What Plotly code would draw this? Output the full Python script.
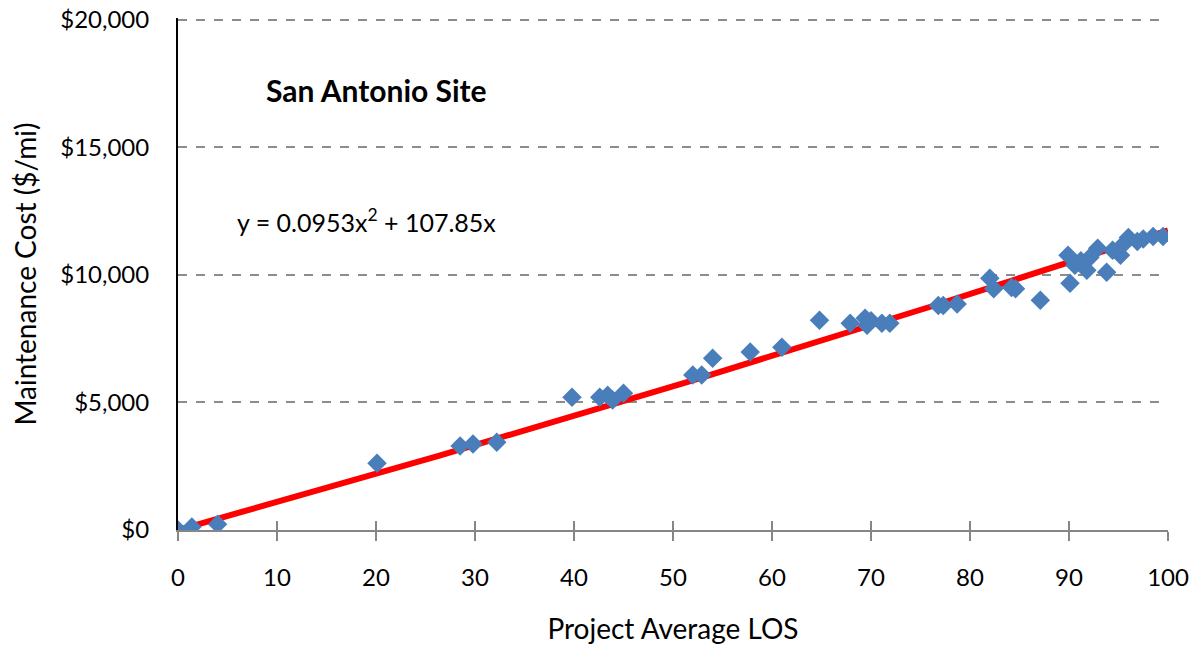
import plotly.graph_objects as go
import numpy as np

# observed data: project average LOS vs maintenance cost ($/mi)
los = [0, 1.4, 4.0, 20.1, 28.5, 29.8, 32.2, 39.8, 42.6, 43.4, 43.9, 45.0,
       52.0, 52.9, 54.0, 57.8, 61.0, 64.8, 67.9, 69.4, 69.6, 70.0, 71.1, 71.9,
       76.8, 77.3, 78.7, 82.0, 82.4, 84.2, 84.6, 87.1, 89.9, 90.1, 90.6, 91.2,
       91.8, 92.1, 92.9, 93.8, 94.4, 95.2, 95.6, 96.0, 96.9, 97.5, 98.5, 99.5]
cost = [0, 120, 230, 2620, 3290, 3370, 3440, 5200, 5200, 5280, 5090, 5360,
        6070, 6070, 6730, 6970, 7160, 8220, 8100, 8300, 8020, 8200, 8100, 8100,
        8800, 8800, 8850, 9860, 9450, 9500, 9450, 9000, 10760, 9670, 10370, 10550,
        10180, 10680, 11040, 10100, 10960, 10760, 11230, 11460, 11300, 11400, 11500, 11500]

# fitted trendline y = 0.0953x^2 + 107.85x
a2, a1 = 0.0953, 107.85
x_fit = np.linspace(0, 100, 201)
y_fit = a2 * x_fit ** 2 + a1 * x_fit

x_ticks = list(range(0, 101, 10))
y_ticks = [0, 5000, 10000, 15000, 20000]
y_ticklabels = ["$0", "$5,000", "$10,000", "$15,000", "$20,000"]

font_family = "Lato, Open Sans, sans-serif"

fig = go.Figure()

fig.add_trace(go.Scatter(x=x_fit, y=y_fit, mode="lines",
                         line=dict(color="#FF0000", width=6), showlegend=False,
                         hoverinfo="skip"))
fig.add_trace(go.Scatter(x=los, y=cost, mode="markers",
                         marker=dict(symbol="diamond", size=15, color="#4A7EBB"),
                         showlegend=False))
# dummy trace on overlaid axis for inside ticks (crossing tick marks)
fig.add_trace(go.Scatter(x=[0], y=[0], xaxis="x2", mode="markers",
                         marker=dict(opacity=0), showlegend=False, hoverinfo="skip"))

fig.update_layout(
    width=1201, height=649,
    margin=dict(l=170, r=41, t=10, b=127),
    plot_bgcolor="white", paper_bgcolor="white",
    font=dict(family=font_family, size=24, color="black"),
    xaxis=dict(range=[0, 100], tickvals=x_ticks, showgrid=False, zeroline=False,
               showline=True, linecolor="#868686", linewidth=2,
               ticks="outside", ticklen=9, tickwidth=2, tickcolor="#868686",
               ticklabelstandoff=16, automargin=False,
               title=dict(text="Project Average LOS", standoff=30,
                          font=dict(size=28))),
    xaxis2=dict(range=[0, 100], overlaying="x", tickvals=x_ticks, showticklabels=False,
                showgrid=False, zeroline=False, ticks="inside", ticklen=9,
                tickwidth=2, tickcolor="#868686", side="bottom", automargin=False),
    # range topped up a little so the $20,000 gridline is still drawn
    yaxis=dict(range=[0, 20060], tickvals=y_ticks, ticktext=y_ticklabels,
               showgrid=True, gridcolor="#8C8C8C", griddash="dash", gridwidth=1.5,
               zeroline=False, showline=True, linecolor="black", linewidth=2,
               ticks="", ticklabelstandoff=22, automargin=False,
               ticklabeloverflow="allow",
               title=dict(text="Maintenance Cost ($/mi)", standoff=21,
                          font=dict(size=28))),
    annotations=[
        dict(text="<b>San Antonio Site</b>", x=0.201, y=0.859, xref="paper", yref="paper",
             showarrow=False, font=dict(size=30), xanchor="center", yanchor="middle"),
        dict(text="y = 0.0953x<sup>2</sup> + 107.85x", x=0.058, y=0.605,
             xref="paper", yref="paper", showarrow=False, font=dict(size=25),
             xanchor="left", yanchor="middle"),
    ],
)

fig.write_html("out.html")
